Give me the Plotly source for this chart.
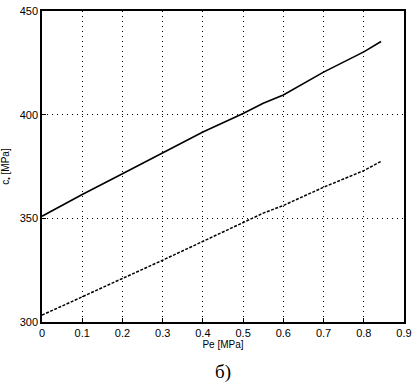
import plotly.graph_objects as go

pe_upper = [0.0, 0.1, 0.2, 0.3, 0.4, 0.5, 0.55, 0.6, 0.7, 0.8, 0.843]
c_upper = [351.0, 361.5, 371.5, 381.7, 391.6, 400.6, 405.5, 409.5, 420.5, 430.3, 435.3]
pe_lower = [0.0, 0.1, 0.2, 0.3, 0.4, 0.5, 0.55, 0.6, 0.7, 0.8, 0.843]
c_lower = [303.3, 312.0, 321.0, 329.8, 339.0, 347.9, 352.5, 356.2, 365.0, 373.0, 377.5]
x_ticks = [0, 0.1, 0.2, 0.3, 0.4, 0.5, 0.6, 0.7, 0.8, 0.9]
x_tick_labels = ["0", "0.1", "0.2", "0.3", "0.4", "0.5", "0.6", "0.7", "0.8", "0.9"]
y_ticks = [300, 350, 400, 450]

fig = go.Figure()
fig.add_trace(go.Scatter(x=pe_upper, y=c_upper, mode="lines",
                         line=dict(color="black", width=1.6), showlegend=False))
fig.add_trace(go.Scatter(x=pe_lower, y=c_lower, mode="lines",
                         line=dict(color="black", width=1.5, dash="3px,1.5px"), showlegend=False))

axis_font = dict(family="Arial, Liberation Sans, sans-serif", size=11, color="black")
title_font = dict(family="Arial, Liberation Sans, sans-serif", size=10, color="black")
fig.update_xaxes(range=[0, 0.9], tickvals=x_ticks, ticktext=x_tick_labels,
                 showgrid=True, gridcolor="black", griddash="1px,4px", gridwidth=1,
                 showline=True, linecolor="black", linewidth=1.5, mirror=True,
                 ticks="inside", ticklen=4, tickcolor="black", zeroline=False,
                 tickfont=axis_font, ticklabeloverflow="allow",
                 title=dict(text="Pe [MPa]", font=title_font, standoff=2))
fig.update_yaxes(range=[300, 450], tickvals=y_ticks,
                 showgrid=True, gridcolor="black", griddash="1px,4px", gridwidth=1,
                 showline=True, linecolor="black", linewidth=1.5, mirror=True,
                 ticks="inside", ticklen=4, tickcolor="black", zeroline=False,
                 tickfont=axis_font,
                 title=dict(text="c<sub>•</sub> [MPa]", font=title_font, standoff=8))

fig.add_annotation(text="б)", x=0.5, y=-0.12, xref="paper", yref="paper",
                   showarrow=False, xanchor="center", yanchor="top",
                   font=dict(family="Liberation Serif, Times New Roman, serif", size=19, color="black"))

fig.update_layout(width=417, height=390, margin=dict(l=41, r=11, t=5, b=68),
                  plot_bgcolor="white", paper_bgcolor="white")
fig.write_html("out.html", config={"displayModeBar": False},
               post_script="document.body.style.margin='0';")
